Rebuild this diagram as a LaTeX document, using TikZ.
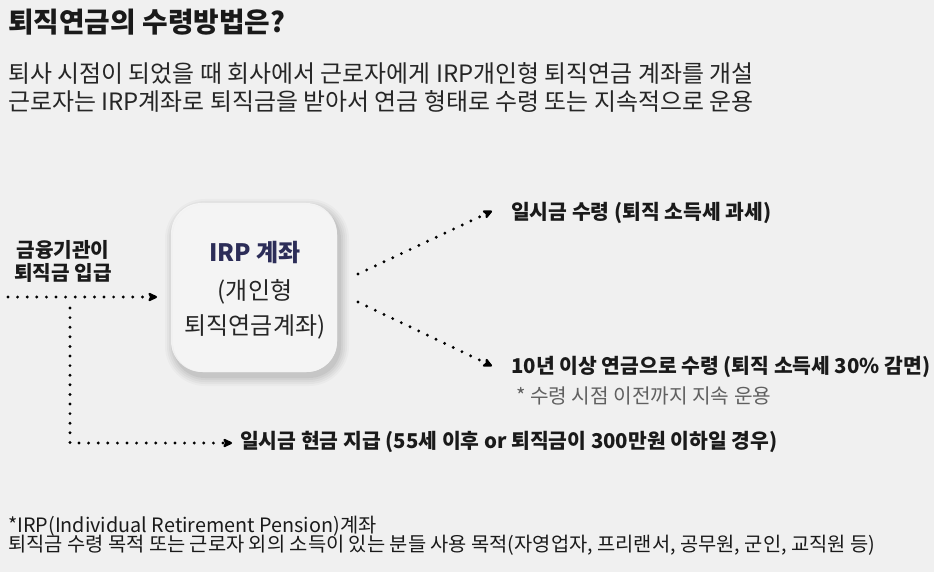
\documentclass[tikz,border=0pt]{standalone}
\usepackage{fontspec}
\setmainfont{Noto Sans CJK KR}
\usetikzlibrary{arrows.meta}
\definecolor{bg}{HTML}{F0F0F0}
\definecolor{boxfill}{HTML}{F4F4F4}
\definecolor{navy}{HTML}{2C2D58}
\definecolor{txt}{HTML}{1A1A1A}
\definecolor{subtxt}{HTML}{262626}
\definecolor{note}{HTML}{606060}
\tikzset{
  lbl/.style={inner sep=0pt, anchor=base west, text=txt},
  dotline/.style={line width=3.2pt, line cap=round, dash pattern=on 0pt off 9.6pt, draw=black},
  dotarrow/.style={dotline, -{Stealth[length=11pt, width=10.5pt, inset=2.5pt, round=false]}},
}
\begin{document}
\begin{tikzpicture}[x=1pt,y=-1pt]
\fill[bg] (0,0) rectangle (934,572);
\useasboundingbox (0,0) rectangle (934,572);

% title and subtitle
\node[lbl] (title) at (8,33) {\fontsize{27.8}{32}\selectfont\bfseries 퇴직연금의 수령방법은?};
\node[lbl, text=subtxt] (sub1) at (8,83) {\fontsize{23.9}{28}\selectfont 퇴사 시점이 되었을 때 회사에서 근로자에게 IRP개인형 퇴직연금 계좌를 개설};
\node[lbl, text=subtxt] (sub2) at (8,111) {\fontsize{23.9}{28}\selectfont 근로자는 IRP계좌로 퇴직금을 받아서 연금 형태로 수령 또는 지속적으로 운용};

% IRP box with soft shadow
\coordinate (bnw) at (173,205);
\coordinate (bse) at (337,372);
\foreach \s/\o in {10/0.025,8/0.03,6/0.035,4/0.04,2/0.05}{
  \fill[black, opacity=\o, rounded corners=30pt+\s pt]
    ([shift={(-\s+2,-\s+4)}]bnw) rectangle ([shift={(\s+2,\s+4)}]bse);
}
\fill[white, opacity=0.7, rounded corners=31pt] ([shift={(-2,-2)}]bnw) rectangle ([shift={(0,0)}]bse);
\node[fill=boxfill, rounded corners=30pt, minimum width=164pt, minimum height=167pt, inner sep=0pt] (irp) at (255,288.5) {};
\node[inner sep=0pt, anchor=base, text=navy] (irp1) at (255,261) {\fontsize{24}{28}\selectfont\bfseries IRP 계좌};
\node[inner sep=0pt, anchor=base, text=subtxt] (irp2) at (255,299) {\fontsize{24}{28}\selectfont (개인형};
\node[inner sep=0pt, anchor=base, text=subtxt] (irp3) at (255,334) {\fontsize{24}{28}\selectfont 퇴직연금계좌)};

% left label
\node[inner sep=0pt, anchor=base, text=txt] (fin1) at (63,257.5) {\fontsize{20.2}{24}\selectfont\bfseries 금융기관이};
\node[inner sep=0pt, anchor=base, text=txt] (fin2) at (63,280) {\fontsize{20.2}{24}\selectfont\bfseries 퇴직금 입급};

% right labels
\node[lbl] (lump) at (511,219.5) {\fontsize{20.4}{24}\selectfont\bfseries 일시금 수령 (퇴직 소득세 과세)};
\node[lbl] (pens) at (511,373.5) {\fontsize{20.4}{24}\selectfont\bfseries 10년 이상 연금으로 수령 (퇴직 소득세 30\% 감면)};
\node[lbl, text=note] (pnote) at (516,403.5) {\fontsize{20.2}{24}\selectfont * 수령 시점 이전까지 지속 운용};
\node[lbl] (cash) at (240,448.5) {\fontsize{20.4}{24}\selectfont\bfseries 일시금 현금 지급 (55세 이후 or 퇴직금이 300만원 이하일 경우)};

% footer
\node[lbl] (foot1) at (8,532) {\fontsize{19.8}{23}\selectfont *IRP(Individual Retirement Pension)계좌};
\node[lbl] (foot2) at (8,551) {\fontsize{19.8}{23}\selectfont 퇴직금 수령 목적 또는 근로자 외의 소득이 있는 분들 사용 목적(자영업자, 프리랜서, 공무원, 군인, 교직원 등)};

% connectors
\coordinate (src) at (8,297);
\coordinate (srctip) at (157,297);
\coordinate (upst) at (358,274);
\coordinate (uptip) at (492,211);
\coordinate (dnst) at (358,302);
\coordinate (dntip) at (492,366);
\coordinate (vst) at (70,308);
\coordinate (vcorner) at (70,443);
\coordinate (cashtip) at (232,443);

\draw[dotarrow] (src) -- (srctip);
\draw[dotarrow] (upst) -- (uptip);
\draw[dotarrow] (dnst) -- (dntip);
\draw[dotarrow] (vst) -- (vcorner) -- (cashtip);
\end{tikzpicture}
\end{document}
